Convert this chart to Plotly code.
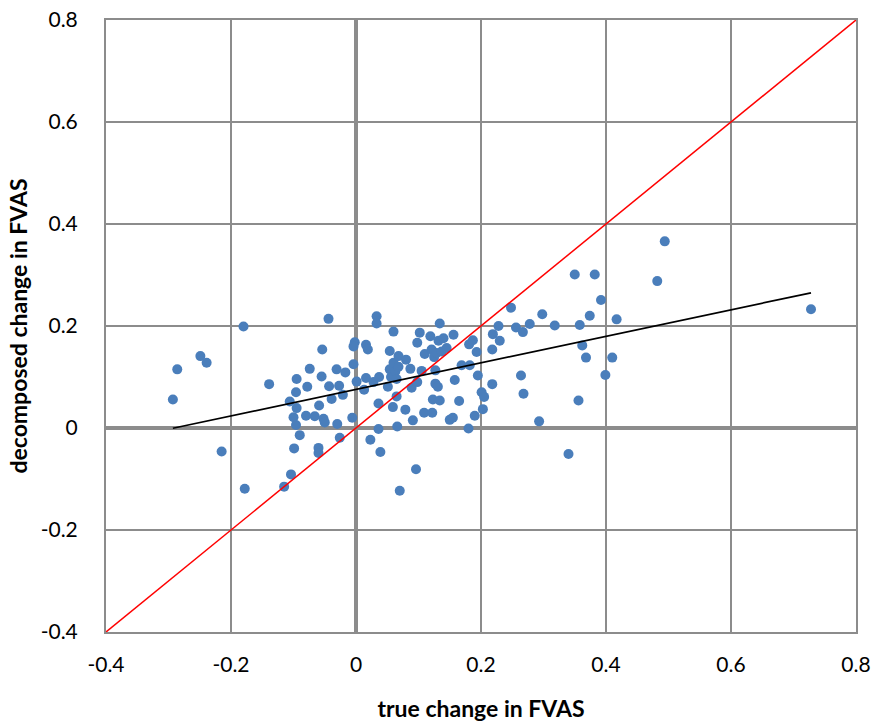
import numpy as np
import plotly.graph_objects as go

# True vs decomposed change in FVAS for each subject
true_change = [
    -0.293, -0.286, -0.249, -0.239, -0.215, -0.180, -0.178, -0.139, -0.115, -0.104,
    -0.106, -0.099, -0.096, -0.100, -0.095, -0.096, -0.095, -0.090, -0.080, -0.078,
    -0.074, -0.066, -0.060, -0.060, -0.059, -0.055, -0.054, -0.052, -0.050, -0.044,
    -0.043, -0.039, -0.031, -0.030, -0.027, -0.026, -0.021, -0.017, -0.006, -0.004,
    -0.002, -0.004, 0.001, 0.016, 0.019, 0.016, 0.013, 0.023, 0.028, 0.033,
    0.033, 0.037, 0.036, 0.036, 0.039, 0.051, 0.054, 0.054, 0.056, 0.059,
    0.060, 0.060, 0.063, 0.065, 0.066, 0.068, 0.070, 0.068, 0.079, 0.080,
    0.087, 0.089, 0.091, 0.096, 0.098, 0.098, 0.102, 0.105, 0.109, 0.110,
    0.119, 0.121, 0.122, 0.123, 0.125, 0.127, 0.127, 0.129, 0.131, 0.132,
    0.134, 0.134, 0.137, 0.140, 0.145, 0.150, 0.155, 0.156, 0.158, 0.165,
    0.169, 0.180, 0.181, 0.182, 0.187, 0.190, 0.193, 0.195, 0.201, 0.205,
    0.203, 0.218, 0.218, 0.219, 0.228, 0.230, 0.248, 0.256, 0.264, 0.267,
    0.268, 0.278, 0.293, 0.298, 0.318, 0.340, 0.350, 0.356, 0.358, 0.362,
    0.368, 0.374, 0.382, 0.392, 0.399, 0.410, 0.417, 0.482, 0.494, 0.728,
    0.065,
]
decomposed_change = [
    0.056, 0.115, 0.141, 0.128, -0.046, 0.199, -0.119, 0.086, -0.115, -0.091,
    0.052, -0.040, 0.006, 0.021, 0.039, 0.070, 0.096, -0.014, 0.024, 0.081,
    0.116, 0.023, -0.039, -0.049, 0.044, 0.101, 0.154, 0.018, 0.011, 0.214,
    0.082, 0.057, 0.115, 0.008, 0.083, -0.019, 0.065, 0.109, 0.020, 0.125,
    0.168, 0.160, 0.091, 0.163, 0.154, 0.098, 0.075, -0.023, 0.090, 0.219,
    0.205, 0.100, 0.048, -0.002, -0.047, 0.081, 0.151, 0.115, 0.100, 0.041,
    0.189, 0.128, 0.111, 0.062, 0.003, 0.141, -0.123, 0.120, 0.036, 0.134,
    0.116, 0.079, 0.015, -0.081, 0.167, 0.090, 0.187, 0.112, 0.030, 0.145,
    0.180, 0.154, 0.030, 0.056, 0.139, 0.113, 0.087, 0.147, 0.081, 0.171,
    0.205, 0.054, 0.150, 0.176, 0.157, 0.016, 0.020, 0.183, 0.094, 0.053,
    0.123, -0.001, 0.164, 0.123, 0.172, 0.024, 0.149, 0.103, 0.070, 0.061,
    0.037, 0.154, 0.086, 0.184, 0.200, 0.171, 0.236, 0.197, 0.103, 0.188,
    0.067, 0.204, 0.013, 0.223, 0.201, -0.051, 0.301, 0.054, 0.202, 0.162,
    0.138, 0.220, 0.301, 0.251, 0.104, 0.138, 0.213, 0.288, 0.366, 0.233,
    0.096,
]

axis_range = [-0.4, 0.8]
tick_values = [-0.4, -0.2, 0, 0.2, 0.4, 0.6, 0.8]
tick_labels = ["-0.4", "-0.2", "0", "0.2", "0.4", "0.6", "0.8"]

x = np.array(true_change)
y = np.array(decomposed_change)

# Least-squares trend line over the observed range
slope, intercept = np.polyfit(x, y, 1)
trend_x = np.array([x.min(), x.max()])
trend_y = slope * trend_x + intercept

grid_color = "#8c8c8c"
font_family = "Lato, Carlito, Calibri, sans-serif"

fig = go.Figure()

fig.add_trace(go.Scatter(
    x=true_change, y=decomposed_change, mode="markers",
    marker=dict(size=10, color="#4a7ebb", line=dict(width=0)),
    showlegend=False, hoverinfo="x+y",
))

# Line of identity (y = x)
fig.add_trace(go.Scatter(
    x=axis_range, y=axis_range, mode="lines",
    line=dict(color="#ff0000", width=1.5),
    showlegend=False, hoverinfo="skip",
))

fig.add_trace(go.Scatter(
    x=trend_x, y=trend_y, mode="lines",
    line=dict(color="#000000", width=1.7),
    showlegend=False, hoverinfo="skip",
))

axis_common = dict(
    range=axis_range,
    tickvals=tick_values,
    ticktext=tick_labels,
    showgrid=True,
    gridcolor=grid_color,
    gridwidth=2,
    zeroline=True,
    zerolinecolor=grid_color,
    zerolinewidth=4,
    showline=True,
    linecolor=grid_color,
    linewidth=2,
    mirror=True,
    ticks="",
    automargin=False,
    tickfont=dict(family=font_family, size=21, color="#000000"),
    fixedrange=True,
)

fig.update_layout(
    width=875,
    height=722,
    margin=dict(l=106, r=19, t=20, b=90),
    paper_bgcolor="#ffffff",
    plot_bgcolor="#ffffff",
    font=dict(family=font_family, color="#000000"),
    xaxis=dict(
        **axis_common,
        ticklabelstandoff=13,
        title=dict(text="<b>true change in FVAS</b>",
                   font=dict(family=font_family, size=23), standoff=26),
    ),
    yaxis=dict(
        **axis_common,
        ticklabelstandoff=22,
        title=dict(text="<b>decomposed change in FVAS</b>",
                   font=dict(family=font_family, size=23), standoff=7),
    ),
)

fig.write_html("out.html")
